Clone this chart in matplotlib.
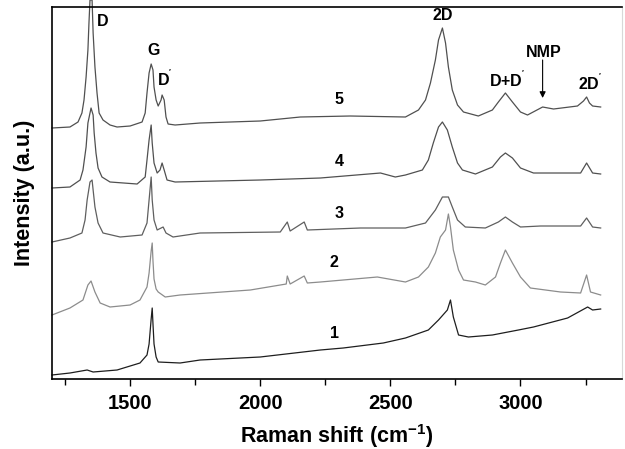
import matplotlib
matplotlib.use("Agg")
import matplotlib.pyplot as plt
from matplotlib.ticker import FixedLocator

plt.rcParams['font.family'] = ['Liberation Sans', 'DejaVu Sans']
plt.rcParams['mathtext.fontset'] = 'custom'
plt.rcParams['mathtext.rm'] = 'Liberation Sans:bold'
plt.rcParams['mathtext.bf'] = 'Liberation Sans:bold'
plt.rcParams['mathtext.it'] = 'Liberation Sans:bold'

# Raman shift (cm-1) and offset intensity (a.u.) for each spectrum
x1 = [1200, 1269, 1335, 1358, 1450, 1538, 1565, 1573, 1581, 1585, 1588, 1592, 1600, 1608, 1692,
      1769, 2000, 2231, 2319, 2473, 2558, 2646, 2685, 2719, 2731, 2742, 2762, 2800, 2892, 2992,
      3050, 3181, 3258, 3277, 3308]
y1 = [4, 6, 9, 7, 9, 16, 24, 35, 60, 71, 55, 35, 22, 17, 16,
      19, 22, 29, 31, 36, 41, 49, 59, 69, 79, 62, 44, 42, 44, 49,
      52, 61, 72, 69, 70]

x2 = [1200, 1269, 1319, 1338, 1350, 1365, 1385, 1423, 1500, 1538, 1565, 1573, 1581, 1585, 1588,
      1592, 1600, 1608, 1635, 1692, 1962, 2100, 2104, 2115, 2169, 2181, 2231, 2450, 2558, 2608,
      2646, 2673, 2692, 2712, 2723, 2731, 2742, 2762, 2781, 2827, 2865, 2904, 2923, 2942, 2969,
      3000, 3038, 3154, 3231, 3254, 3269, 3308]
y2 = [64, 71, 79, 94, 98, 87, 76, 72, 74, 79, 92, 106, 128, 136, 118,
      100, 90, 87, 82, 84, 89, 95, 103, 95, 103, 96, 97, 102, 97, 102,
      112, 126, 142, 149, 165, 152, 129, 109, 99, 97, 94, 102, 116, 129, 116,
      102, 91, 87, 86, 104, 87, 84]

x3 = [1200, 1269, 1315, 1327, 1335, 1346, 1354, 1358, 1365, 1377, 1396, 1462, 1546, 1565, 1573,
      1581, 1585, 1592, 1604, 1627, 1638, 1665, 1769, 2077, 2104, 2115, 2169, 2181, 2385, 2558,
      2635, 2673, 2700, 2723, 2738, 2758, 2788, 2865, 2915, 2942, 2969, 3000, 3077, 3231, 3254,
      3277, 3308]
y3 = [137, 141, 146, 159, 179, 197, 199, 189, 172, 156, 146, 142, 144, 156, 179,
      202, 179, 159, 149, 152, 146, 142, 146, 147, 157, 148, 157, 149, 151, 151,
      156, 169, 182, 182, 172, 159, 152, 151, 157, 162, 157, 152, 153, 153, 161,
      152, 151]

x4 = [1200, 1269, 1308, 1319, 1331, 1338, 1350, 1358, 1362, 1369, 1377, 1392, 1423, 1527, 1558,
      1565, 1573, 1581, 1585, 1592, 1604, 1615, 1623, 1631, 1642, 1673, 2000, 2231, 2462, 2519,
      2558, 2623, 2646, 2665, 2685, 2700, 2719, 2738, 2758, 2777, 2827, 2892, 2923, 2942, 2969,
      3000, 3050, 3231, 3254, 3277, 3308]
y4 = [191, 192, 199, 209, 232, 256, 271, 264, 246, 226, 211, 202, 197, 195, 202,
      219, 239, 254, 236, 216, 206, 209, 216, 209, 199, 197, 199, 201, 206, 202,
      204, 209, 219, 236, 252, 257, 249, 232, 216, 209, 205, 212, 222, 226, 221,
      211, 206, 206, 216, 206, 205]

x5 = [1200, 1269, 1300, 1315, 1323, 1331, 1338, 1342, 1346, 1354, 1358, 1365, 1373, 1381, 1396,
      1423, 1450, 1500, 1546, 1558, 1565, 1573, 1581, 1588, 1592, 1600, 1608, 1619, 1623, 1631,
      1638, 1646, 1673, 1769, 2000, 2154, 2346, 2558, 2608, 2635, 2654, 2673, 2685, 2700, 2712,
      2723, 2738, 2758, 2781, 2838, 2892, 2915, 2942, 2969, 3000, 3027, 3085, 3127, 3219, 3242,
      3254, 3265, 3277, 3308]
y5 = [251, 252, 257, 266, 279, 302, 329, 356, 379, 379, 346, 312, 286, 266, 259,
      254, 252, 253, 257, 266, 286, 306, 315, 309, 292, 279, 273, 279, 284, 279,
      262, 255, 254, 256, 258, 262, 263, 262, 269, 279, 296, 319, 339, 351, 336,
      312, 289, 274, 267, 263, 269, 277, 286, 277, 267, 264, 272, 270, 273, 278,
      282, 276, 273, 272]

series = [(x1, y1, '#1e1e1e'), (x2, y2, '#8c8c8c'), (x3, y3, '#5f5f5f'),
          (x4, y4, '#505050'), (x5, y5, '#505050')]

curve_labels = ['1', '2', '3', '4', '5']
curve_label_x = [2285, 2285, 2304, 2304, 2304]
curve_label_y = [46, 117, 166, 218, 280]

peak_labels = ['D', 'G', "D$^{'}$", '2D', "D+D$^{'}$", "2D$^{'}$"]
peak_label_x = [1396, 1592, 1635, 2700, 2950, 3268]
peak_label_y = [358, 329, 300, 364, 299, 296]

fig = plt.figure(figsize=(6.25, 4.49), dpi=100)
ax = fig.add_axes([0.0832, 0.1559, 0.9120, 0.8285])

for xs, ys, c in series:
    ax.plot(xs, ys, color=c, lw=0.9, clip_on=False)

ax.set_xlim(1200, 3390)
ax.set_ylim(0, 372)

for t, xx, yy in zip(curve_labels, curve_label_x, curve_label_y):
    ax.text(xx, yy, t, fontsize=11.5, fontweight='bold', ha='center', va='center')
for t, xx, yy in zip(peak_labels, peak_label_x, peak_label_y):
    ax.text(xx, yy, t, fontsize=11.5, fontweight='bold', ha='center', va='center')

ax.text(3088, 327, 'NMP', fontsize=11.5, fontweight='bold', ha='center', va='center')
ax.annotate('', xy=(3085, 281), xytext=(3085, 319),
            arrowprops=dict(arrowstyle='-|>', color='black', lw=0.8,
                            mutation_scale=9, shrinkA=0, shrinkB=0))

ax.xaxis.set_major_locator(FixedLocator([1500, 2000, 2500, 3000]))
ax.xaxis.set_minor_locator(FixedLocator([1250, 1750, 2250, 2750, 3250]))
ax.tick_params(axis='x', which='major', direction='out', length=5, width=1.0,
               labelsize=14.5, pad=6)
ax.tick_params(axis='x', which='minor', direction='out', length=4, width=1.0)
for lab in ax.get_xticklabels():
    lab.set_fontweight('bold')
ax.set_yticks([])

for s in ['left', 'top', 'bottom']:
    ax.spines[s].set_linewidth(1.2)
    ax.spines[s].set_color('black')
ax.spines['right'].set_color('#d8d8d8')
ax.spines['right'].set_linewidth(0.8)

ax.set_xlabel(r"Raman shift (cm$^{\mathbf{-1}}$)", fontsize=15.5, fontweight='bold', labelpad=6)
ax.set_ylabel("Intensity (a.u.)", fontsize=15.5, fontweight='bold', labelpad=12)

fig.savefig('out.png', dpi=100)
